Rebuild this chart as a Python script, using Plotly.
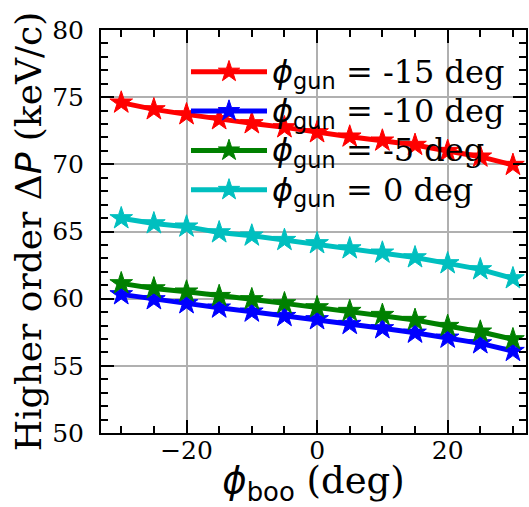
import plotly.graph_objects as go

phi_boo = [-30, -25, -20, -15, -10, -5, 0, 5, 10, 15, 20, 25, 30]
dp_m15 = [74.59, 74.09, 73.72, 73.35, 73.05, 72.75, 72.38, 72.06, 71.76, 71.44, 70.99, 70.57, 69.95]
dp_m10 = [60.32, 59.95, 59.65, 59.33, 59.03, 58.70, 58.46, 58.11, 57.79, 57.46, 57.09, 56.67, 56.10]
dp_m5 = [61.14, 60.76, 60.52, 60.19, 59.95, 59.65, 59.35, 59.08, 58.78, 58.41, 57.96, 57.54, 56.97]
dp_0 = [65.98, 65.60, 65.36, 64.93, 64.69, 64.36, 64.12, 63.74, 63.42, 63.07, 62.63, 62.18, 61.51]

series = [
    ("-15", dp_m15, "#ff0000"),
    ("-10", dp_m10, "#0000ff"),
    ("-5", dp_m5, "#008000"),
    ("0", dp_0, "#00bfbf"),
]

SANS = "font-family:DejaVu Sans"

fig = go.Figure()
for gun, vals, col in series:
    fig.add_trace(go.Scatter(
        x=phi_boo, y=vals, mode="lines+markers",
        line=dict(color=col, width=5),
        marker=dict(symbol="star", size=17, color=col, line=dict(color=col, width=1)),
        name=(f'<span style="font-size:32px"><span style="{SANS}"><i>ϕ</i><sub>gun</sub></span>'
              f' = {gun} deg</span>'),
    ))

axis_common = dict(
    showline=True, linecolor="black", linewidth=2, mirror="ticks",
    ticks="inside", ticklen=13, tickwidth=2, tickcolor="black",
    showgrid=True, gridcolor="#b0b0b0", gridwidth=1.5,
    zeroline=False,
    tickfont=dict(family="DejaVu Serif", size=25, color="black"),
)

fig.update_xaxes(
    range=[-33.1, 32.0], tickvals=[-20, 0, 20],
    minor=dict(dtick=5, tick0=0, ticks="inside", ticklen=7, tickwidth=1.5, tickcolor="black", showgrid=False),
    title=dict(text=f'<span style="{SANS}"><i>ϕ</i><sub>boo</sub></span> (deg)',
               font=dict(family="DejaVu Serif", size=37, color="black"), standoff=8),
    ticklabelstandoff=-6,
    **axis_common,
)
fig.update_yaxes(
    range=[50, 80], tickvals=[50, 55, 60, 65, 70, 75, 80],
    minor=dict(dtick=1, tick0=50, ticks="inside", ticklen=7, tickwidth=1.5, tickcolor="black", showgrid=False),
    title=dict(text=f'Higher order Δ<span style="{SANS}"><i>P</i></span> (keV/c)',
               font=dict(family="DejaVu Serif", size=36, color="black"), standoff=0),
    ticklabelstandoff=10,
    **axis_common,
)

fig.update_layout(
    width=529, height=507,
    margin=dict(l=101, r=1, t=30, b=74),
    paper_bgcolor="white", plot_bgcolor="white",
    font=dict(family="DejaVu Serif", color="black"),
    legend=dict(
        x=0.2, y=0.958, xanchor="left", yanchor="top",
        bgcolor="rgba(0,0,0,0)", borderwidth=0,
        font=dict(family="DejaVu Serif", size=28, color="black"),
        itemwidth=76, tracegroupgap=0,
    ),
)

fig.write_html("out.html")
